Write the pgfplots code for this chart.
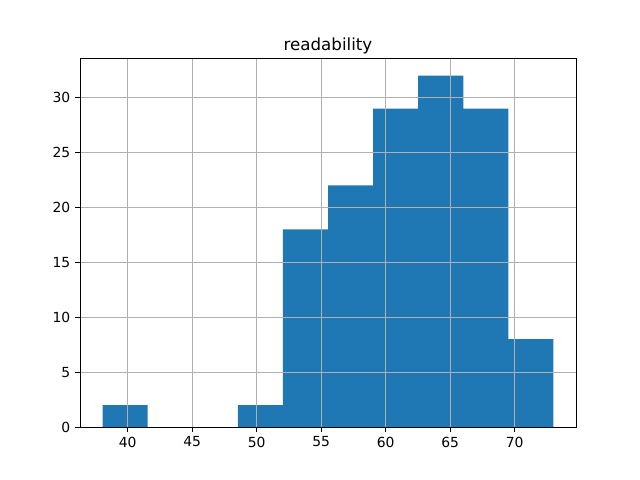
\documentclass[border=0pt]{standalone}
\usepackage{pgfplots}
\pgfplotsset{compat=1.18}
\usepackage{fontspec}
\setmainfont{DejaVu Sans}
\definecolor{mplblue}{HTML}{1F77B4}
\definecolor{gridgray}{HTML}{B0B0B0}
\begin{document}
\begin{tikzpicture}
\begin{axis}[
  name=ax,
  scale only axis,
  width=357.12pt, height=265.68pt,
  xmin=36.30, xmax=74.75, ymin=0, ymax=33.6,
  xtick={40,45,...,70}, ytick={0,5,...,30},
  xtick pos=left, ytick pos=left,
  grid=major,
  grid style={color=gridgray, line width=0.6pt},
  axis on top,
  tick align=outside, major tick length=3.5pt,
  tick style={black, line width=0.6pt},
  axis line style={line width=0.6pt},
  title={readability},
  title style={font=\fontsize{12}{14}\selectfont, yshift=-6.5pt},
  ticklabel style={font=\fontsize{10}{12}\selectfont},
  /pgf/number format/assume math mode=true,
]
\addplot[ybar interval, fill=mplblue, draw=none] coordinates {
(38.05,2) (41.545,0) (45.04,0) (48.535,2) (52.03,18) (55.525,22) (59.02,29) (62.515,32) (66.01,29) (69.505,8) (73.0,8)};
\end{axis}
\path[use as bounding box] ([xshift=-57.6pt,yshift=-38.16pt]ax.south west) rectangle ([xshift=46.08pt,yshift=41.76pt]ax.north east);
\end{tikzpicture}
\end{document}
